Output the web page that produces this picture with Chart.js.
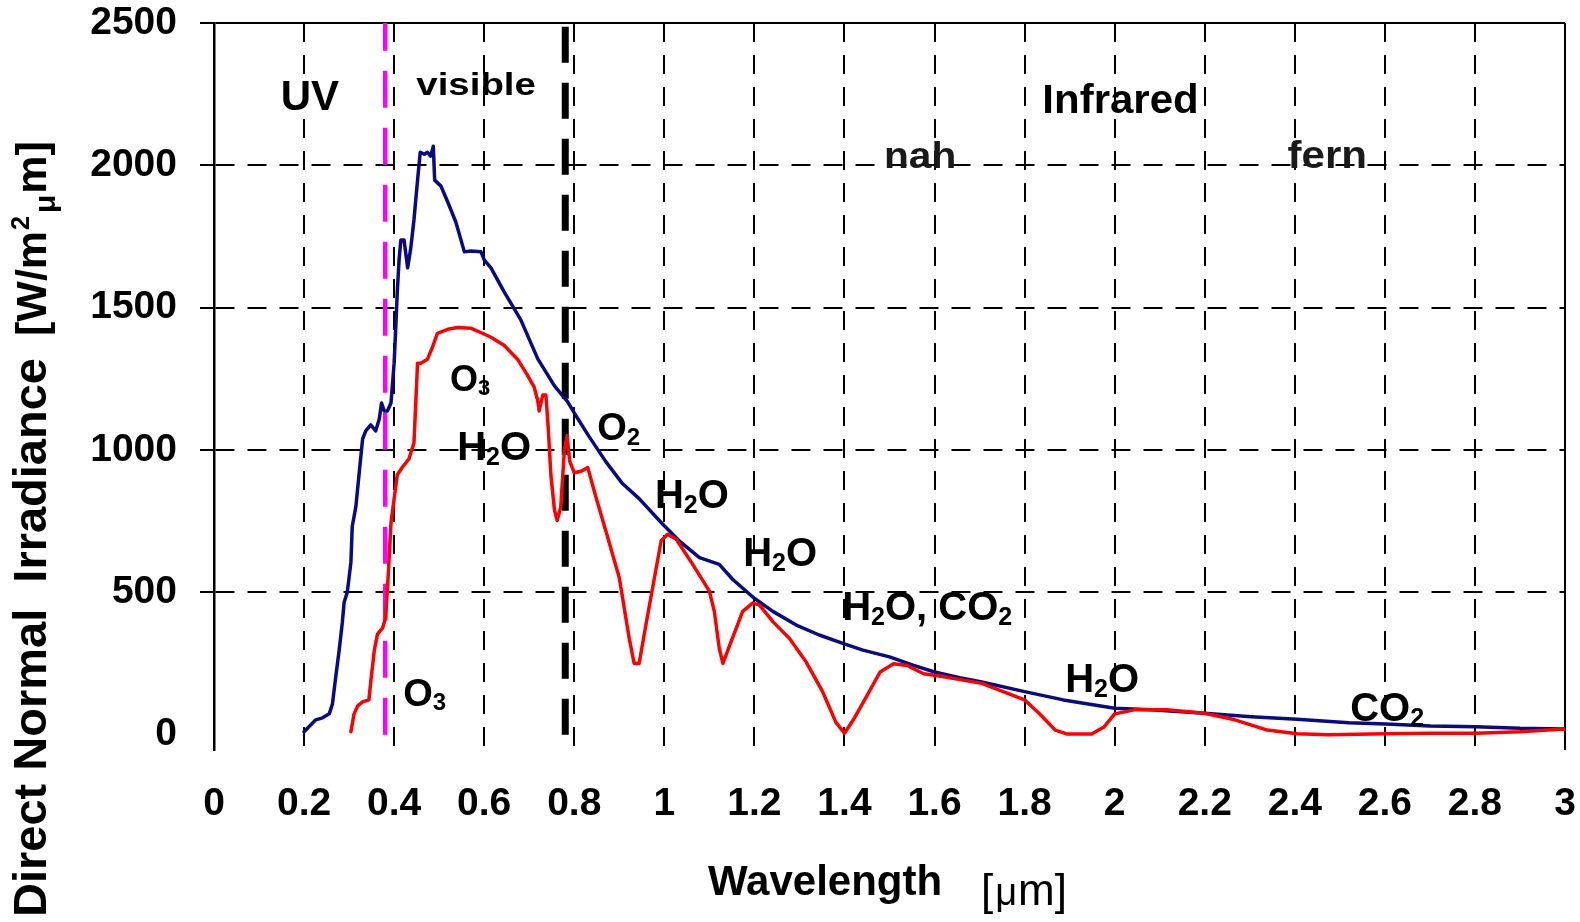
<!DOCTYPE html>
<html>
<head>
<meta charset="utf-8">
<script src="https://cdn.jsdelivr.net/npm/chart.js@4.4.1/dist/chart.umd.min.js"></script>
<style>
html,body{margin:0;padding:0;background:#ffffff;}
#wrap{width:1580px;height:922px;position:relative;}
</style>
</head>
<body>
<div id="wrap"><canvas id="c" width="1580" height="922"></canvas></div>
<script>
// ---------- data ----------
const xTickValues = [0, 0.2, 0.4, 0.6, 0.8, 1, 1.2, 1.4, 1.6, 1.8, 2, 2.2, 2.4, 2.6, 2.8, 3];
const xTickLabels = ["0", "0.2", "0.4", "0.6", "0.8", "1", "1.2", "1.4", "1.6", "1.8", "2", "2.2", "2.4", "2.6", "2.8", "3"];
const yTickValues = [0, 500, 1000, 1500, 2000, 2500];
const yTickLabels = ["0", "500", "1000", "1500", "2000", "2500"];

// extraterrestrial spectrum (blue)
const extraX = [0.200,0.226,0.241,0.256,0.263,0.270,0.278,0.285,0.289,0.296,0.304,0.307,0.315,0.322,0.330,0.337,0.348,0.359,0.367,0.372,0.378,0.385,0.393,0.400,0.404,0.407,0.411,0.415,0.422,0.430,0.437,0.444,0.452,0.458,0.467,0.474,0.481,0.487,0.490,0.504,0.519,0.537,0.556,0.570,0.593,0.600,0.615,0.644,0.681,0.719,0.756,0.785,0.800,0.833,0.870,0.907,0.944,0.996,1.033,1.078,1.122,1.152,1.199,1.241,1.293,1.344,1.398,1.441,1.500,1.552,1.600,1.656,1.705,1.800,1.886,2.000,2.080,2.199,2.303,2.405,2.520,2.602,2.701,2.801,2.900,3.000];
const extraY = [10,52,59,73,108,199,297,395,465,500,605,731,801,913,1039,1067,1088,1067,1109,1165,1137,1137,1165,1305,1444,1556,1668,1738,1738,1640,1710,1808,1948,2046,2039,2046,2032,2067,1948,1927,1871,1801,1696,1699,1696,1668,1640,1556,1458,1320,1225,1170,1130,1047,959,882,829,740,681,622,598,545,480,433,385,350,320,297,273,244,220,200,185,151,122,93,87,75,63,54,42,37,30,28,22,20];

// direct normal irradiance at ground (red)
const directX = [0.304,0.311,0.319,0.330,0.344,0.348,0.356,0.363,0.374,0.381,0.387,0.393,0.400,0.407,0.419,0.433,0.444,0.448,0.452,0.459,0.474,0.485,0.496,0.519,0.541,0.570,0.596,0.615,0.644,0.674,0.696,0.711,0.719,0.722,0.730,0.737,0.742,0.748,0.756,0.762,0.770,0.778,0.784,0.790,0.800,0.815,0.830,0.848,0.870,0.900,0.922,0.933,0.944,0.959,0.978,0.993,1.007,1.026,1.063,1.100,1.111,1.122,1.130,1.148,1.174,1.196,1.211,1.241,1.278,1.315,1.352,1.381,1.400,1.420,1.450,1.479,1.509,1.539,1.576,1.614,1.705,1.800,1.832,1.868,1.895,1.949,1.977,2.000,2.043,2.116,2.199,2.267,2.339,2.405,2.475,2.602,2.701,2.801,2.900,3.000];
const directY = [10,73,101,115,122,185,297,353,374,409,563,745,829,913,941,969,1025,1165,1305,1305,1319,1361,1410,1424,1430,1428,1410,1396,1368,1319,1263,1221,1172,1137,1193,1193,1081,913,790,752,800,1000,1050,960,920,925,938,835,716,551,338,250,250,385,551,681,704,687,598,504,433,303,250,326,433,462,456,397,338,255,149,43,5,53,137,220,249,243,214,205,180,122,75,16,2,2,28,73,87,87,75,52,16,3,0,3,5,5,10,20];

// band boundaries (UV / visible, visible / infrared)
const bandBoundaries = [0.38, 0.78];
const boundaryRange = [0, 2500];

// ---------- text annotations ----------
const regionLabels = [
  {text: "UV", x: 0.213, y: 2194, size: 42, stretch: 1.0},
  {text: "visible", x: 0.582, y: 2247, size: 32, stretch: 1.2},
  {text: "Infrared", x: 2.013, y: 2184, size: 40, stretch: 1.05},
  {text: "nah", x: 1.568, y: 1990, size: 37, stretch: 1.1, color: "#1a1a1a"},
  {text: "fern", x: 2.472, y: 1990, size: 39, stretch: 1.08, color: "#1a1a1a"}
];
const formulaLabels = [
  {text: "O_3", x: 0.524, y: 1207, size: 36},
  {text: "H_2O", x: 0.540, y: 965, size: 40},
  {text: "O_2", x: 0.851, y: 1035, size: 38},
  {text: "H_2O", x: 0.979, y: 796, size: 40},
  {text: "H_2O", x: 1.175, y: 593, size: 40},
  {text: "H_2O, CO_2", x: 1.395, y: 403, size: 40},
  {text: "H_2O", x: 1.890, y: 150, size: 40},
  {text: "CO_2", x: 2.523, y: 48, size: 40},
  {text: "O_3", x: 0.420, y: 101, size: 38}
];

const FONT = '"Liberation Sans", Arial, sans-serif';

function drawFormula(ctx, str, x, y, size) {
  const sub = Math.round(size * 0.62);
  let cx = x;
  for (let i = 0; i < str.length; i++) {
    let ch = str[i];
    if (ch === '_') {
      i++; ch = str[i];
      ctx.font = 'bold ' + sub + 'px ' + FONT;
      ctx.fillText(ch, cx, y + size * 0.12);
      cx += ctx.measureText(ch).width;
    } else {
      ctx.font = 'bold ' + size + 'px ' + FONT;
      ctx.fillText(ch, cx, y);
      cx += ctx.measureText(ch).width;
    }
  }
}

const annotationPlugin = {
  id: 'annot',
  afterDatasetsDraw(chart) {
    const ctx = chart.ctx;
    const xs = chart.scales.x, ys = chart.scales.y;
    ctx.save();
    ctx.fillStyle = '#000';
    ctx.textBaseline = 'alphabetic';
    regionLabels.forEach(l => {
      const px = xs.getPixelForValue(l.x), py = ys.getPixelForValue(l.y);
      ctx.save();
      ctx.fillStyle = l.color || '#000';
      ctx.font = 'bold ' + l.size + 'px ' + FONT;
      ctx.textAlign = 'center';
      ctx.translate(px, py);
      ctx.scale(l.stretch, 1);
      ctx.fillText(l.text, 0, 0);
      ctx.restore();
    });
    ctx.textAlign = 'left';
    formulaLabels.forEach(l => {
      drawFormula(ctx, l.text, xs.getPixelForValue(l.x), ys.getPixelForValue(l.y), l.size);
    });
    ctx.restore();

    // axis titles
    ctx.save();
    ctx.fillStyle = '#000';
    ctx.textAlign = 'left';
    ctx.textBaseline = 'alphabetic';
    ctx.translate(46, 917);
    ctx.rotate(-Math.PI / 2);
    ctx.font = 'bold 47px ' + FONT;
    const t1 = 'Direct Normal  Irradiance';
    ctx.fillText(t1, 0, 0);
    let cx = ctx.measureText(t1).width + 22;
    ctx.font = 'bold 43px ' + FONT;
    ctx.fillText('[W/m', cx, 0); cx += ctx.measureText('[W/m').width + 1;
    ctx.font = 'bold 25px ' + FONT;
    ctx.fillText('2', cx, -17); cx += ctx.measureText('2').width + 3;
    ctx.font = 'bold 30px ' + FONT;
    ctx.fillText('\u03bc', cx, 9); cx += ctx.measureText('\u03bc').width + 1;
    ctx.font = 'bold 43px ' + FONT;
    ctx.fillText('m]', cx, 0);
    ctx.restore();

    ctx.save();
    ctx.fillStyle = '#000';
    ctx.textAlign = 'left';
    ctx.textBaseline = 'alphabetic';
    ctx.font = 'bold 42px ' + FONT;
    ctx.fillText('Wavelength', 708, 895);
    ctx.font = '44px ' + FONT;
    ctx.fillText('[', 981, 905);
    let bx = 981 + ctx.measureText('[').width + 2;
    ctx.font = '38px ' + FONT;
    ctx.fillText('\u03bc', bx, 905); bx += ctx.measureText('\u03bc').width + 1;
    ctx.font = '44px ' + FONT;
    ctx.fillText('m]', bx, 905);
    ctx.restore();
  }
};

const tickFont = {family: FONT, size: 39, weight: 'bold'};

new Chart(document.getElementById('c'), {
  type: 'line',
  data: {
    datasets: [
      {
        label: 'Direct normal',
        data: directX.map((x, i) => ({x: x, y: directY[i]})),
        borderColor: '#ff0000', borderWidth: 3.5, pointRadius: 0, tension: 0, order: 1, fill: false,
        borderJoinStyle: 'round', borderCapStyle: 'round'
      },
      {
        label: 'Extraterrestrial',
        data: extraX.map((x, i) => ({x: x, y: extraY[i]})),
        borderColor: '#0a0a82', borderWidth: 3.5, pointRadius: 0, tension: 0, order: 2, fill: false,
        borderJoinStyle: 'round', borderCapStyle: 'round'
      },
      {
        label: 'UV limit',
        data: boundaryRange.map(v => ({x: bandBoundaries[0], y: v})),
        borderColor: '#ff00ff', borderWidth: 4.5, borderDash: [37, 20], pointRadius: 0, order: 3, fill: false
      },
      {
        label: 'IR limit',
        data: boundaryRange.map(v => ({x: bandBoundaries[1], y: v})),
        borderColor: '#000000', borderWidth: 7, borderDash: [36, 20], pointRadius: 0, order: 4, fill: false
      }
    ]
  },
  options: {
    responsive: false,
    animation: false,
    devicePixelRatio: 1,
    layout: {padding: {left: 0, right: 15, top: 23, bottom: 0}},
    plugins: {legend: {display: false}, tooltip: {enabled: false}, title: {display: false}},
    scales: {
      x: {
        type: 'linear', min: 0, max: 3,
        afterBuildTicks: s => { s.ticks = xTickValues.map(v => ({value: v})); },
        afterFit: s => { s.height = 172; s.paddingLeft = 0; s.paddingRight = 0; s.paddingTop = 0; s.paddingBottom = 0; },
        ticks: {
          callback: (v, i) => xTickLabels[i],
          font: tickFont, color: '#000', padding: 31, maxRotation: 0, minRotation: 0, autoSkip: false
        },
        grid: {color: '#000', lineWidth: 2, drawTicks: false},
        border: {display: false, dash: c => (c.tick && c.tick.value === 3) ? [] : [19, 13]}
      },
      y: {
        type: 'linear', min: -54, max: 2500,
        afterBuildTicks: s => { s.ticks = yTickValues.map(v => ({value: v})); },
        afterFit: s => { s.width = 214; s.paddingLeft = 0; s.paddingRight = 0; s.paddingTop = 0; s.paddingBottom = 0; },
        ticks: {
          callback: (v, i) => yTickLabels[i],
          font: tickFont, color: '#000', padding: 23
        },
        grid: {
          color: c => (c.tick && c.tick.value === 0) ? 'rgba(0,0,0,0)' : '#000',
          tickColor: c => (c.tick && c.tick.value === 0) ? 'rgba(0,0,0,0)' : '#000',
          lineWidth: 2, tickLength: 14, tickWidth: 2, tickBorderDash: []
        },
        border: {display: true, color: '#000', width: 2.5, dash: c => (c.tick && c.tick.value === 2500) ? [] : [19, 13]}
      }
    }
  },
  plugins: [annotationPlugin]
});
</script>
</body>
</html>
